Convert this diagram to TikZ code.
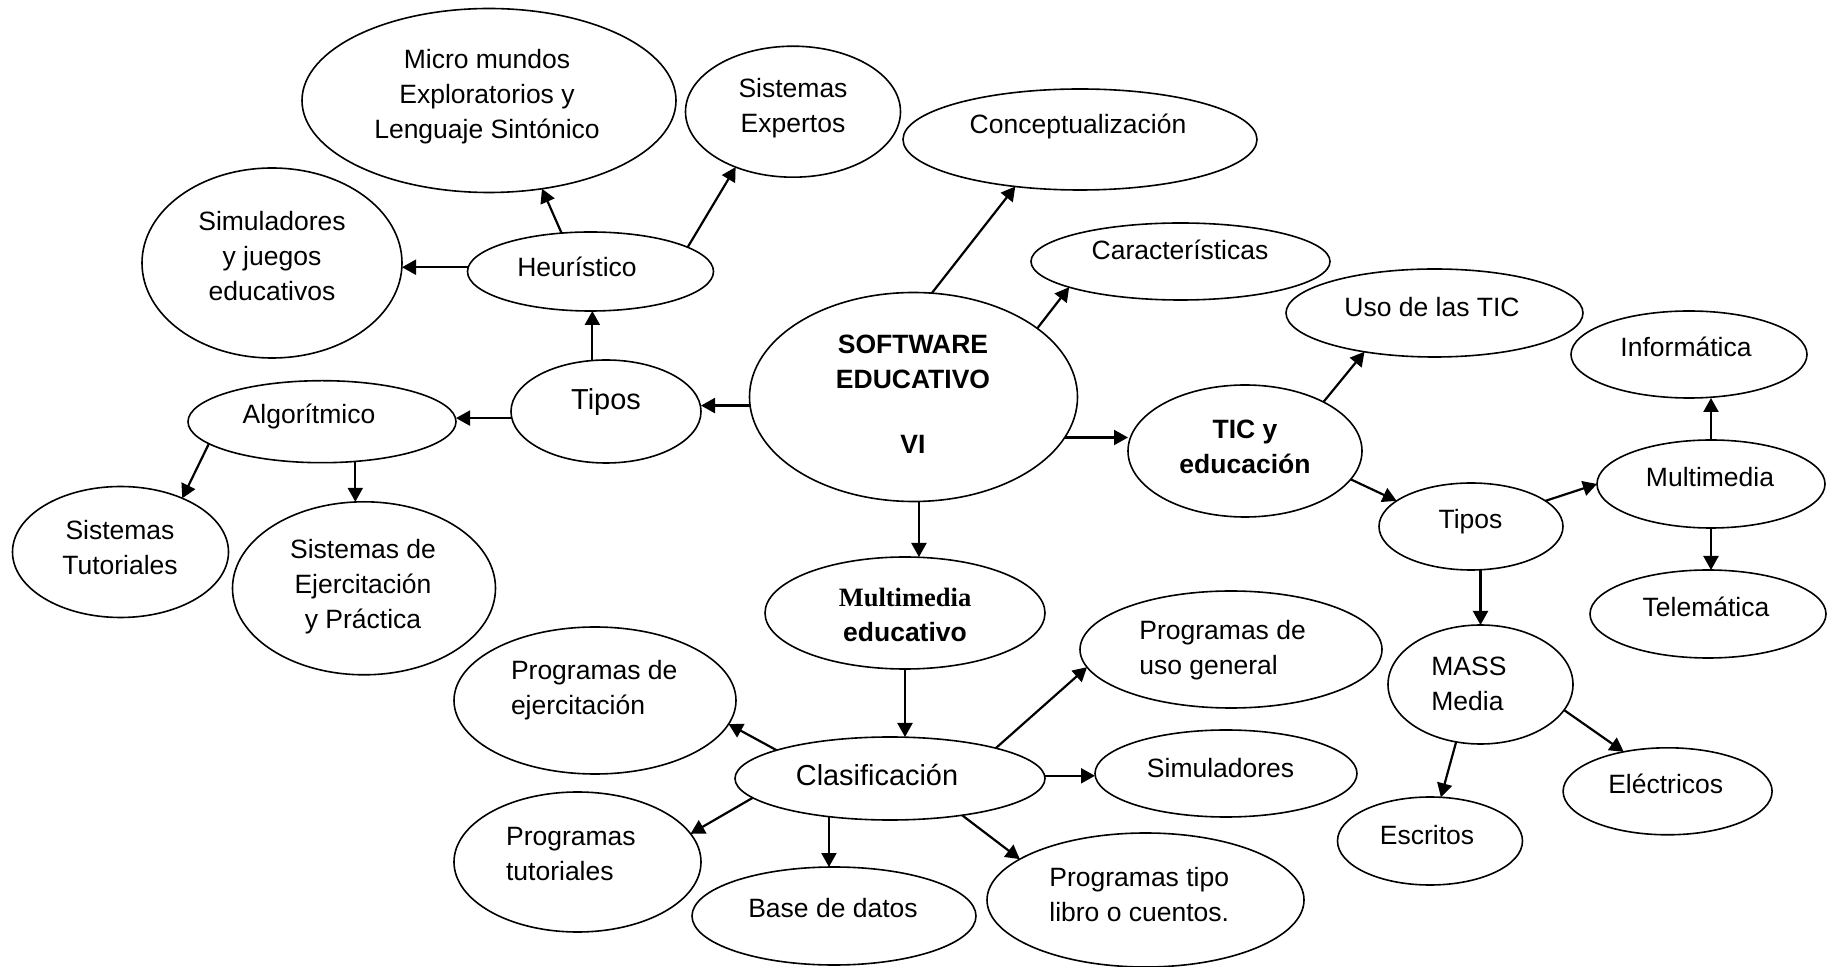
\documentclass[tikz,border=0pt]{standalone}
\usepackage{fontspec}
\setmainfont{Liberation Sans}
\newfontfamily\serifbf{Liberation Serif}
\usetikzlibrary{shapes.geometric,arrows.meta}
\begin{document}
\begin{tikzpicture}[x=0.5pt,y=-0.5pt,
  ell/.style={ellipse,draw,line width=0.8pt,inner sep=0pt,outer sep=0pt},
  sz/.style 2 args={minimum width=#1*0.5pt,minimum height=#2*0.5pt},
  txt/.style={inner sep=0pt,align=center,font=\fontsize{13.25}{17.5}\selectfont},
  ltxt/.style={txt,align=left,anchor=west},
  big/.style={font=\fontsize{14.45}{17.5}\selectfont},
  bold/.style={font=\fontsize{13.25}{17.5}\selectfont\bfseries},
  arr/.style={line width=1.1pt,-{Triangle[length=7pt,width=7.5pt]}}]
\useasboundingbox (0,0) rectangle (1827,967);

% ---------- ellipses ----------
\node[ell,sz={374}{184}] (micro)  at (489,100.5) {};
\node[ell,sz={215}{131}] (sisexp) at (793,111.7) {};
\node[ell,sz={354}{101}] (concept) at (1080,139.5) {};
\node[ell,sz={260}{190}] (simjue) at (272,263) {};
\node[ell,sz={246}{79}]  (heur)   at (590.5,271.5) {};
\node[ell,sz={299}{77}]  (caract) at (1180.5,261.5) {};
\node[ell,sz={328}{209}] (soft)   at (913.5,397) {};
\node[ell,sz={190}{103}] (tiposL) at (606,411.5) {};
\node[ell,sz={268}{82}]  (algo)   at (322,421.7) {};
\node[ell,sz={297}{88}]  (uso)    at (1434.5,313) {};
\node[ell,sz={236}{87}]  (info)   at (1689,354.5) {};
\node[ell,sz={234}{132}] (tic)    at (1245,451) {};
\node[ell,sz={228}{88}]  (multR)  at (1711,484) {};
\node[ell,sz={184}{87}]  (tiposR) at (1471,526.5) {};
\node[ell,sz={216}{131}] (sistut) at (120.5,552) {};
\node[ell,sz={263}{173}] (sisejer) at (364,588.3) {};
\node[ell,sz={280}{112}] (multed) at (905,613) {};
\node[ell,sz={236}{88}]  (telem)  at (1708,614) {};
\node[ell,sz={302}{117}] (usogen) at (1231,649.5) {};
\node[ell,sz={185}{119}] (mass)   at (1480.5,684.5) {};
\node[ell,sz={282}{147}] (progejer) at (595,700.5) {};
\node[ell,sz={310}{83}]  (clasif) at (890,778.5) {};
\node[ell,sz={262}{87}]  (simul)  at (1226,773.5) {};
\node[ell,sz={209}{87}]  (electr) at (1667.6,791.3) {};
\node[ell,sz={247}{140}] (progtut) at (577.5,862) {};
\node[ell,sz={185}{88}]  (escritos) at (1430,841) {};
\node[ell,sz={284}{98}]  (basedatos) at (834,916) {};
\node[ell,sz={317}{134}] (libro)  at (1145.5,900) {};

% ---------- texts ----------
\node[txt] (t-micro) at (487,96.4) {Micro mundos\\Exploratorios y\\Lenguaje Sintónico};
\node[txt] (t-sisexp) at (793,107.7) {Sistemas\\Expertos};
\node[txt] (t-concept) at (1078,126.7) {Conceptualización};
\node[txt] (t-simjue) at (272,255.7) {Simuladores\\y juegos\\educativos};
\node[txt] (t-heur) at (577,267) {Heurístico};
\node[txt] (t-caract) at (1180,250) {Características};
\node[txt,bold] (t-soft) at (913,394.4) {SOFTWARE\\EDUCATIVO\\[15pt]VI};
\node[txt,big] (t-tiposL) at (606,402) {Tipos};
\node[txt] (t-algo) at (309,416.7) {Algorítmico};
\node[txt] (t-uso) at (1432,307) {Uso de las TIC};
\node[txt] (t-info) at (1686,347) {Informática};
\node[txt,bold] (t-tic) at (1245,447) {TIC y\\educación};
\node[txt] (t-multR) at (1710,477) {Multimedia};
\node[txt] (t-tiposR) at (1470.5,522) {Tipos};
\node[txt] (t-sistut) at (120,547.5) {Sistemas\\Tutoriales};
\node[txt] (t-sisejer) at (363,587) {Sistemas de\\Ejercitación\\y Práctica};
\node[txt,bold] (t-multed) at (905,615) {{\serifbf\bfseries Multimedia}\\educativo};
\node[txt] (t-telem) at (1706,607) {Telemática};
\node[ltxt] (t-usogen) at (1139,650.5) {Programas de\\uso general};
\node[ltxt] (t-mass) at (1431,684) {MASS\\Media};
\node[ltxt] (t-progejer) at (510.6,690.5) {Programas de\\ejercitación};
\node[txt,big] (t-clasif) at (877,775) {Clasificación};
\node[txt] (t-simul) at (1220.6,768) {Simuladores};
\node[txt] (t-electr) at (1665.7,784) {Eléctricos};
\node[ltxt] (t-progtut) at (505.7,854.5) {Programas\\tutoriales};
\node[txt] (t-escritos) at (1427,835) {Escritos};
\node[txt] (t-basedatos) at (833,908) {Base de datos};
\node[ltxt] (t-libro) at (1049,894.5) {Programas tipo\\libro o cuentos.};

% ---------- connectors ----------
\draw[arr] (heur.178) -- (heur.178 -| simjue.east);
\draw[arr] (heur.127.7) -- (micro.301.6);
\draw[arr] (heur.14.3) -- (sisexp.224);
\draw[arr] (tiposL.105.2) -- (tiposL.105.2 |- heur.south);
\draw[arr] (soft.183.4) -- (soft.183.4 -| tiposL.east);
\draw[arr] (tiposL.184.5) -- (tiposL.184.5 -| algo.east);
\draw[arr] (algo.191.7) -- (sistut.41);
\draw[arr] (algo.310.6) -- (algo.310.6 |- sisejer.north);
\draw[arr] (soft.80.9) -- (concept.216.2);
\draw[arr] (soft.29.7) -- (caract.193.6);
\draw[arr] (soft.345.8) -- (soft.345.8 -| tic.west);
\draw[arr] (soft.273.5) -- (soft.273.5 |- multed.north);
\draw[arr] (tic.32.3) -- (uso.209.9);
\draw[arr] (tic.345.7) -- (tiposR.161.8);
\draw[arr] (tiposR.19.5) -- (multR.180.5);
\draw[arr] (multR.north) -- (multR.north |- info.south);
\draw[arr] (multR.south) -- (multR.south |- telem.north);
\draw[arr] (mass.north |- tiposR.south) -- (mass.north);
\draw[arr] (mass.247) -- (escritos.76);
\draw[arr] (mass.343.7) -- (electr.138.3);
\draw[arr] (multed.south) -- (multed.south |- clasif.north);
\draw[arr] (clasif.166.1) -- (progejer.350.6);
\draw[arr] (clasif.16.9) -- (usogen.187.2);
\draw[arr] (clasif.1.3) -- (clasif.1.3 -| simul.west);
\draw[arr] (clasif.188.9) -- (progtut.14.2);
\draw[arr] (clasif.212.6) -- (clasif.212.6 |- basedatos.north);
\draw[arr] (clasif.333.1) -- (libro.162.8);
\end{tikzpicture}
\end{document}
